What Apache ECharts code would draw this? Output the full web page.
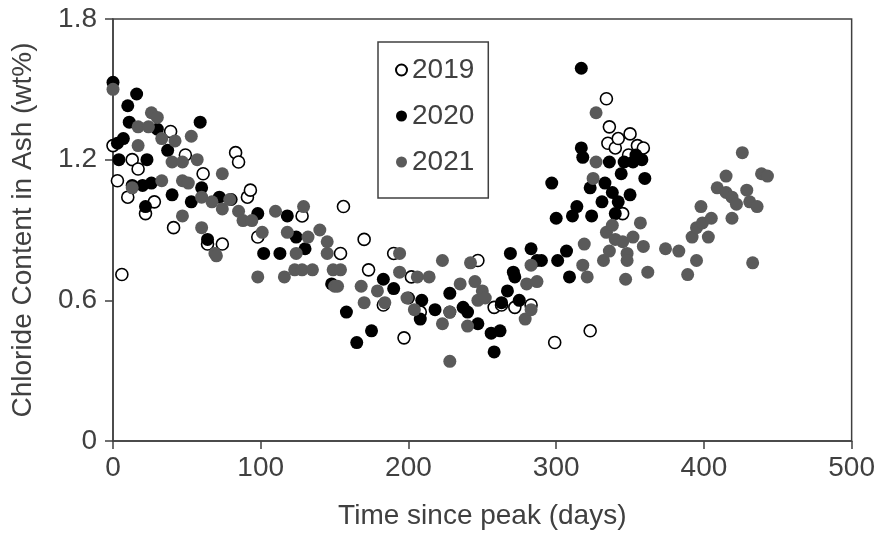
<!DOCTYPE html>
<html>
<head>
<meta charset="utf-8">
<script src="https://cdn.jsdelivr.net/npm/echarts@6/dist/echarts.min.js"></script>
<style>
  html, body { margin: 0; padding: 0; background: #ffffff; }
  #chart { width: 878px; height: 540px; }
</style>
</head>
<body>
<div id="chart"></div>
<script>
// Chloride content in ash vs. days since the seasonal peak, three campaigns.
const xTicks = [0, 100, 200, 300, 400, 500];
const yTicks = [0, 0.6, 1.2, 1.8];

// [days since peak, chloride wt%]
const data2019 = [
  [0, 1.26], [3, 1.11], [6, 0.71], [10, 1.04], [13, 1.20], [17, 1.16], [22, 0.97],
  [28, 1.02], [39, 1.32], [41, 0.91], [49, 1.22], [61, 1.14], [64, 0.84], [74, 0.84],
  [83, 1.23], [85, 1.19], [91, 1.04], [93, 1.07], [98, 0.87], [128, 0.96], [154, 0.80],
  [156, 1.00], [170, 0.86], [173, 0.73], [183, 0.58], [190, 0.80], [197, 0.44],
  [202, 0.70], [208, 0.55], [247, 0.77], [258, 0.57], [263, 0.58], [272, 0.57],
  [283, 0.58], [299, 0.42], [323, 0.47], [334, 1.46], [335, 1.27], [336, 1.34],
  [340, 1.25], [342, 1.29], [345, 0.97], [349, 1.22], [350, 1.31], [355, 1.26], [359, 1.25]
];

const data2020 = [
  [0, 1.53], [3, 1.27], [4, 1.20], [7, 1.29], [10, 1.43], [11, 1.36], [13, 1.09],
  [16, 1.48], [20, 1.09], [22, 1.00], [23, 1.20], [26, 1.10], [30, 1.33], [37, 1.24],
  [40, 1.05], [53, 1.02], [59, 1.36], [60, 1.08], [64, 0.86], [72, 1.04], [80, 1.03],
  [98, 0.97], [102, 0.80], [113, 0.80], [118, 0.96], [124, 0.87], [130, 0.82],
  [148, 0.67], [158, 0.55], [165, 0.42], [175, 0.47], [183, 0.69], [190, 0.65],
  [200, 0.61], [208, 0.52], [209, 0.60], [218, 0.56], [228, 0.63], [228, 0.55],
  [237, 0.57], [240, 0.55], [247, 0.50], [256, 0.46], [258, 0.38], [262, 0.47],
  [263, 0.59], [267, 0.64], [269, 0.80], [271, 0.72], [272, 0.70], [275, 0.60],
  [283, 0.82], [287, 0.77], [290, 0.77], [297, 1.10], [300, 0.95], [301, 0.77],
  [307, 0.81], [309, 0.70], [311, 0.96], [314, 1.00], [317, 1.59], [317, 1.25],
  [318, 1.21], [323, 1.08], [324, 0.96], [331, 1.02], [333, 1.10], [336, 1.19],
  [338, 1.06], [340, 0.97], [342, 1.02], [344, 1.14], [346, 1.19], [350, 1.05],
  [352, 1.19], [354, 1.22], [358, 1.20], [360, 1.12]
];

const data2021 = [
  [0, 1.50], [13, 1.08], [17, 1.34], [17, 1.26], [24, 1.34], [26, 1.40], [30, 1.38],
  [33, 1.29], [33, 1.11], [40, 1.19], [42, 1.28], [47, 1.19], [47, 1.11], [47, 0.96],
  [51, 1.10], [53, 1.30], [57, 1.20], [60, 1.04], [60, 0.91], [67, 1.02], [69, 0.80],
  [70, 0.79], [74, 1.14], [74, 0.99], [79, 1.03], [85, 0.98], [88, 0.94], [94, 0.94],
  [98, 0.70], [101, 0.89], [110, 0.98], [116, 0.70], [118, 0.89], [123, 0.73],
  [124, 0.80], [128, 0.73], [129, 1.00], [132, 0.87], [135, 0.73], [140, 0.90],
  [145, 0.85], [145, 0.80], [149, 0.73], [150, 0.66], [152, 0.66], [154, 0.73],
  [168, 0.66], [170, 0.59], [179, 0.64], [184, 0.59], [194, 0.72], [194, 0.80],
  [199, 0.61], [204, 0.56], [206, 0.70], [214, 0.70], [223, 0.77], [223, 0.50],
  [228, 0.34], [228, 0.55], [235, 0.67], [240, 0.49], [242, 0.76], [245, 0.68],
  [247, 0.60], [250, 0.64], [252, 0.61], [279, 0.52], [280, 0.67], [283, 0.75],
  [283, 0.56], [287, 0.68], [318, 0.75], [319, 0.84], [321, 0.70], [325, 1.12],
  [327, 1.40], [327, 1.19], [332, 0.77], [334, 0.89], [336, 0.81], [338, 0.92],
  [340, 0.86], [345, 0.85], [347, 0.69], [348, 0.80], [348, 0.77], [352, 0.87],
  [357, 0.93], [359, 0.83], [362, 0.72], [374, 0.82], [383, 0.81], [389, 0.71],
  [392, 0.87], [395, 0.91], [395, 0.77], [398, 1.00], [399, 0.93], [403, 0.87],
  [405, 0.95], [409, 1.08], [415, 1.13], [415, 1.06], [419, 1.04], [419, 0.95],
  [422, 1.01], [426, 1.23], [429, 1.07], [431, 1.02], [433, 0.76], [436, 1.00],
  [439, 1.14], [443, 1.13]
];

const ink = '#404040';
const font = 'Liberation Sans, Arial, sans-serif';

const chart = echarts.init(document.getElementById('chart'), null, { renderer: 'canvas' });

chart.setOption({
  animation: false,
  backgroundColor: '#ffffff',
  textStyle: { fontFamily: font },
  grid: {
    left: 113, right: 26, top: 19, bottom: 99,
    show: true, borderColor: ink, borderWidth: 1.5, backgroundColor: 'transparent'
  },
  legend: {
    orient: 'vertical',
    left: 378, top: 42,
    padding: [14, 14, 22, 17],
    itemGap: 18,
    itemWidth: 11, itemHeight: 11,
    icon: 'circle',
    borderColor: ink, borderWidth: 1.5,
    textStyle: { fontSize: 28, color: ink, fontFamily: font, lineHeight: 28, padding: [0, 0, 0, 0] },
    data: ['2019', '2020', '2021']
  },
  xAxis: {
    type: 'value',
    min: xTicks[0], max: xTicks[xTicks.length - 1], interval: 100,
    name: 'Time since peak (days)',
    nameLocation: 'middle', nameGap: 61,
    nameTextStyle: { fontSize: 28, color: ink, fontFamily: font },
    axisLine: { show: true, lineStyle: { color: ink, width: 1.5 } },
    axisTick: { show: true, inside: false, length: 8, lineStyle: { color: ink, width: 1.5 } },
    axisLabel: { fontSize: 28, color: ink, margin: 13, fontFamily: font },
    splitLine: { show: false }
  },
  yAxis: {
    type: 'value',
    min: yTicks[0], max: yTicks[yTicks.length - 1], interval: 0.6,
    name: 'Chloride Content in Ash (wt%)',
    nameLocation: 'middle', nameGap: 76,
    nameTextStyle: { fontSize: 28, color: ink, fontFamily: font },
    axisLine: { show: true, lineStyle: { color: ink, width: 1.5 } },
    axisTick: { show: true, inside: false, length: 8, lineStyle: { color: ink, width: 1.5 } },
    axisLabel: {
      fontSize: 28, color: ink, margin: 16, fontFamily: font,
      formatter: v => (v === 0 ? '0' : v.toFixed(1))
    },
    splitLine: { show: false }
  },
  series: [
    {
      name: '2019', type: 'scatter', data: data2019, symbol: 'circle', symbolSize: 12,
      itemStyle: { color: '#ffffff', borderColor: '#000000', borderWidth: 1.6, opacity: 1 }
    },
    {
      name: '2020', type: 'scatter', data: data2020, symbol: 'circle', symbolSize: 13,
      itemStyle: { color: '#000000', opacity: 1 }
    },
    {
      name: '2021', type: 'scatter', data: data2021, symbol: 'circle', symbolSize: 13,
      itemStyle: { color: '#5a5a5a', opacity: 1 }
    }
  ]
});
</script>
</body>
</html>
